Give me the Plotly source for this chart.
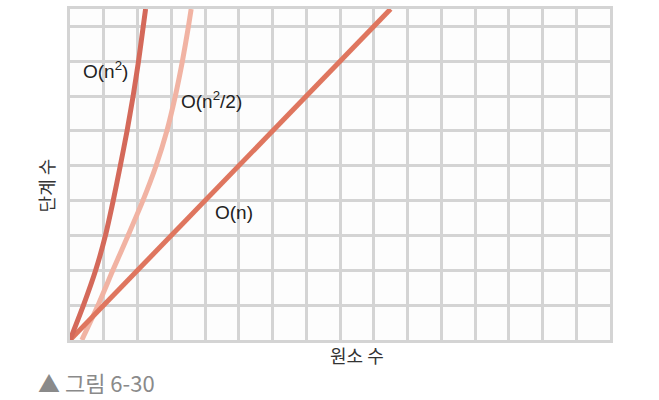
import plotly.graph_objects as go

# data (grid units: x 0..16 elements, y 0..9.5 steps)
n_linear = [0, 9.5]
steps_linear = [0, 9.5]

n_square = [0, 0.4, 0.76, 1.05, 1.28, 1.49, 1.69, 1.87, 2.03, 2.17, 2.24]
steps_square = [0, 1, 2, 3, 4, 5, 6, 7, 8, 9, 9.5]

n_half = [0.35, 0.83, 1.27, 1.72, 2.16, 2.55, 2.87, 3.12, 3.33, 3.51, 3.59]
steps_half = [0, 1, 2, 3, 4, 5, 6, 7, 8, 9, 9.5]

labels = ["O(n<sup>2</sup>)", "O(n<sup>2</sup>/2)", "O(n)"]
label_x = [1.05, 4.2, 4.85]
label_y = [7.75, 6.88, 3.65]

x_title = "원소 수"
y_title = "단계 수"
caption = "▲ 그림 6-30"

FONT = "Noto Sans CJK KR"
LFONT = "Liberation Sans"
GRID = "#d4d4d4"

fig = go.Figure()
fig.add_trace(go.Scatter(x=n_half, y=steps_half, mode="lines",
                         line=dict(color="#f1b3a3", width=5, shape="spline", smoothing=0.6),
                         hoverinfo="skip"))
fig.add_trace(go.Scatter(x=n_linear, y=steps_linear, mode="lines",
                         line=dict(color="#df765f", width=5), hoverinfo="skip"))
fig.add_trace(go.Scatter(x=n_square, y=steps_square, mode="lines",
                         line=dict(color="#d4695a", width=5, shape="spline", smoothing=0.6),
                         hoverinfo="skip"))

for t, x, y in zip(labels, label_x, label_y):
    fig.add_annotation(x=x, y=y, text=t, showarrow=False, xref="x", yref="y",
                       xanchor="center", yanchor="middle",
                       font=dict(family=LFONT, size=19, color="#222222"))

fig.add_annotation(x=357, y=355, text=x_title, showarrow=False,
                   xanchor="center", yanchor="middle",
                   font=dict(family=FONT, size=18, color="#333333"))
fig.add_annotation(x=46, y=184, text=y_title, showarrow=False, textangle=-90,
                   xanchor="center", yanchor="middle",
                   font=dict(family=FONT, size=18, color="#333333"))
fig.add_annotation(x=36, y=382, text=caption, showarrow=False,
                   xanchor="left", yanchor="middle",
                   font=dict(family=FONT, size=22, color="#8a8a8a"))

# convert pixel-placed annotations to paper coords
W, H = 659, 400
L, R, T, B = 70, 49, 6, 60
pw, ph = W - L - R, H - T - B
for a in fig.layout.annotations[3:]:
    px, py = a.x, a.y
    a.xref = "paper"; a.yref = "paper"
    a.x = (px - L) / pw
    a.y = (H - B - py) / ph

fig.update_layout(
    width=W, height=H,
    margin=dict(l=L, r=R, t=T, b=B),
    paper_bgcolor="white", plot_bgcolor="#fdfdfd",
    showlegend=False,
    xaxis=dict(range=[0, 16], dtick=1, showgrid=True, gridcolor=GRID, gridwidth=2.5,
               showticklabels=False, ticks="", zeroline=False,
               showline=True, linecolor=GRID, linewidth=2.5, mirror=True, fixedrange=True),
    yaxis=dict(range=[0, 9.5], dtick=1, showgrid=True, gridcolor=GRID, gridwidth=2.5,
               showticklabels=False, ticks="", zeroline=False,
               showline=True, linecolor=GRID, linewidth=2.5, mirror=True, fixedrange=True),
)

fig.write_html("out.html", config={"displayModeBar": False},
               post_script="document.body.style.margin='0';")
